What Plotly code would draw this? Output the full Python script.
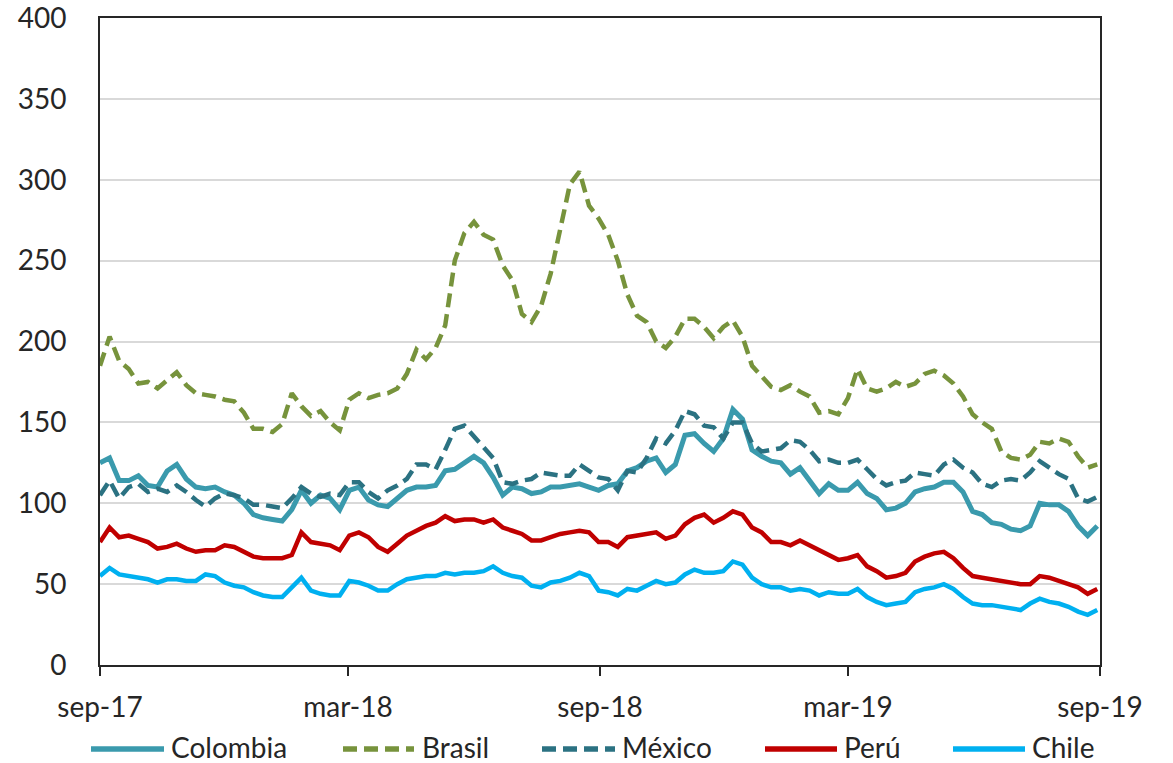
import pandas as pd
import plotly.graph_objects as go

# weekly observations starting 2017-09-01
start_date = "2017-09-01"
n_weeks = 105
dates = pd.date_range(start_date, periods=n_weeks, freq="7D")

colombia = [125, 128, 114, 114, 117, 111, 110, 120, 124, 115,
            110, 109, 110, 107, 105, 100, 93, 91, 90, 89,
            96, 108, 100, 105, 103, 96, 108, 110, 102, 99,
            98, 103, 108, 110, 110, 111, 120, 121, 125, 129,
            125, 116, 105, 110, 109, 106, 107, 110, 110, 111,
            112, 110, 108, 111, 112, 120, 122, 126, 128, 119,
            124, 142, 143, 137, 132, 140, 158, 152, 133, 129,
            126, 125, 118, 122, 114, 106, 112, 108, 108, 113,
            106, 103, 96, 97, 100, 107, 109, 110, 113, 113,
            107, 95, 93, 88, 87, 84, 83, 86, 100, 99,
            99, 95, 86, 80, 86]

brasil = [185, 203, 188, 183, 174, 175, 171, 176, 181, 173,
          168, 167, 166, 164, 163, 156, 146, 146, 144, 149,
          168, 160, 154, 157, 150, 145, 164, 168, 165, 167,
          168, 171, 180, 195, 189, 196, 210, 250, 267, 274,
          266, 263, 247, 238, 217, 212, 222, 242, 268, 297,
          305, 284, 276, 266, 250, 229, 216, 212, 200, 196,
          203, 214, 214, 209, 202, 209, 213, 203, 185, 178,
          172, 170, 173, 169, 166, 156, 157, 155, 165, 183,
          171, 169, 171, 175, 172, 174, 180, 182, 179, 174,
          166, 155, 150, 146, 132, 128, 127, 130, 138, 137,
          140, 138, 129, 122, 124]

mexico = [105, 114, 103, 110, 112, 107, 109, 107, 111, 107,
          102, 98, 103, 106, 105, 103, 99, 99, 98, 97,
          103, 110, 106, 104, 106, 105, 113, 113, 107, 103,
          108, 111, 115, 124, 124, 121, 133, 146, 148, 141,
          134, 128, 113, 112, 114, 115, 119, 118, 117, 117,
          124, 120, 116, 115, 108, 120, 119, 128, 140, 137,
          145, 157, 155, 148, 147, 140, 150, 150, 137, 132,
          133, 134, 139, 138, 133, 126, 127, 125, 125, 127,
          121, 115, 111, 113, 114, 119, 118, 117, 124, 127,
          122, 119, 112, 110, 114, 115, 114, 119, 126, 122,
          118, 115, 103, 101, 104]

peru = [76, 85, 79, 80, 78, 76, 72, 73, 75, 72,
        70, 71, 71, 74, 73, 70, 67, 66, 66, 66,
        68, 82, 76, 75, 74, 71, 80, 82, 79, 73,
        70, 75, 80, 83, 86, 88, 92, 89, 90, 90,
        88, 90, 85, 83, 81, 77, 77, 79, 81, 82,
        83, 82, 76, 76, 73, 79, 80, 81, 82, 78,
        80, 87, 91, 93, 88, 91, 95, 93, 85, 82,
        76, 76, 74, 77, 74, 71, 68, 65, 66, 68,
        61, 58, 54, 55, 57, 64, 67, 69, 70, 66,
        60, 55, 54, 53, 52, 51, 50, 50, 55, 54,
        52, 50, 48, 44, 47]

chile = [55, 60, 56, 55, 54, 53, 51, 53, 53, 52,
         52, 56, 55, 51, 49, 48, 45, 43, 42, 42,
         48, 54, 46, 44, 43, 43, 52, 51, 49, 46,
         46, 50, 53, 54, 55, 55, 57, 56, 57, 57,
         58, 61, 57, 55, 54, 49, 48, 51, 52, 54,
         57, 55, 46, 45, 43, 47, 46, 49, 52, 50,
         51, 56, 59, 57, 57, 58, 64, 62, 54, 50,
         48, 48, 46, 47, 46, 43, 45, 44, 44, 47,
         42, 39, 37, 38, 39, 45, 47, 48, 50, 47,
         42, 38, 37, 37, 36, 35, 34, 38, 41, 39,
         38, 36, 33, 31, 34]

tick_dates = ["2017-09-01", "2018-03-01", "2018-09-01", "2019-03-01", "2019-09-01"]
tick_labels = ["sep-17", "mar-18", "sep-18", "mar-19", "sep-19"]
y_ticks = [0, 50, 100, 150, 200, 250, 300, 350, 400]

DASH = "14px,7px"
series = [
    ("Colombia", colombia, "#3A9AAD", 5, "solid"),
    ("Brasil", brasil, "#77933C", 4.5, DASH),
    ("México", mexico, "#2B7282", 4.5, DASH),
    ("Perú", peru, "#C00000", 4.5, "solid"),
    ("Chile", chile, "#00B0F0", 4.5, "solid"),
]

FONT = "Lato"
TXT = "#262626"
FS = 28

# figure geometry (pixels)
W, H = 1173, 763
ML, MR, MT, MB = 100, 73, 18, 98
PW, PH = W - ML - MR, H - MT - MB

# manual legend layout: sample start x, sample end x, label x (pixels)
legend_pos = [(91, 164, 169), (343, 414, 420), (542, 615, 620),
              (765, 837, 842), (953, 1025, 1030)]
legend_y = 747

def px_x(p):
    return (p - ML) / PW

def px_y(p):
    return (H - MB - p) / PH

fig = go.Figure()
for name, vals, color, width, dash in series:
    fig.add_trace(go.Scatter(
        x=dates, y=vals, mode="lines", name=name,
        line=dict(color=color, width=width, dash=dash),
        showlegend=False,
    ))

for (name, vals, color, width, dash), (x0, x1, xt) in zip(series, legend_pos):
    fig.add_shape(type="line", xref="paper", yref="paper",
                  x0=px_x(x0), x1=px_x(x1), y0=px_y(legend_y + 2), y1=px_y(legend_y + 2),
                  line=dict(color=color, width=5.5, dash=dash))
    fig.add_annotation(text=name, xref="paper", yref="paper",
                       x=px_x(xt), y=px_y(legend_y), xanchor="left", yanchor="middle",
                       showarrow=False, font=dict(family=FONT, size=FS, color=TXT))

fig.update_layout(
    width=W, height=H,
    margin=dict(l=ML, r=MR, t=MT, b=MB, autoexpand=False),
    paper_bgcolor="white", plot_bgcolor="white",
    font=dict(family=FONT, size=FS, color=TXT),
    showlegend=False,
)
fig.update_xaxes(
    range=["2017-09-01", "2019-09-01"],
    tickmode="array", tickvals=tick_dates, ticktext=tick_labels,
    showgrid=False, zeroline=False,
    showline=True, linecolor="#262626", linewidth=2, mirror=True,
    ticks="outside", ticklen=9, tickwidth=2, tickcolor="#262626",
    ticklabelstandoff=7, ticklabeloverflow="allow",
    tickfont=dict(family=FONT, size=FS, color=TXT),
)
fig.update_yaxes(
    range=[0, 400], tickmode="array", tickvals=y_ticks,
    showgrid=True, gridcolor="#D9D9D9", gridwidth=2,
    zeroline=False,
    showline=True, linecolor="#262626", linewidth=2, mirror=True,
    ticks="", ticklabelstandoff=26, ticklabeloverflow="allow",
    tickfont=dict(family=FONT, size=FS, color=TXT),
)

fig.write_html("out.html")
